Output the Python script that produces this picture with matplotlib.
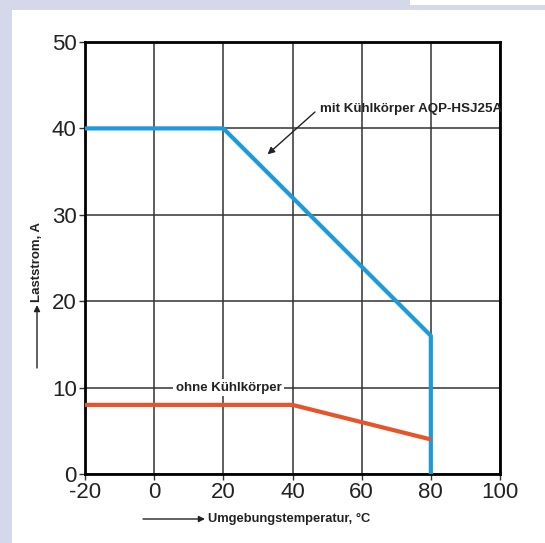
import matplotlib.pyplot as plt
from matplotlib.patches import Rectangle

# Derating-Kurven
temp_mit = [-20, 20, 80, 80]
strom_mit = [40, 40, 16, 0]
temp_ohne = [-20, 40, 80]
strom_ohne = [8, 8, 4]
xticks = [-20, 0, 20, 40, 60, 80, 100]
yticks = [0, 10, 20, 30, 40, 50]

plt.rcParams['font.family'] = ['Liberation Sans', 'DejaVu Sans']
plt.rcParams['axes.unicode_minus'] = False

fig = plt.figure(figsize=(5.45, 5.43), dpi=100)
fig.patch.set_facecolor('#d5d8ea')
# weisses Feld
fig.patches.append(Rectangle((12/545, 0), 1, 1 - 10/543, transform=fig.transFigure,
                             facecolor='white', edgecolor='none', zorder=-5))
fig.patches.append(Rectangle((410/545, 1 - 5/543), 1, 1, transform=fig.transFigure,
                             facecolor='white', edgecolor='none', zorder=-5))

ax = fig.add_axes([85/545, 1 - 474/543, 415/545, 432/543])
ax.set_zorder(2)
ax.set_xlim(-20, 100)
ax.set_ylim(0, 50)
ax.set_xticks(xticks)
ax.set_yticks(yticks)
ax.grid(True, color='#333333', lw=1.1)
ax.tick_params(labelsize=16, length=4, width=1, color='#333333', pad=2,
               labelcolor='#222222')
for s in ax.spines.values():
    s.set_linewidth(2)

ax.plot(temp_mit, strom_mit, color='#1b9bd7', lw=3, solid_capstyle='butt', zorder=3)
ax.plot(temp_ohne, strom_ohne, color='#e8542a', lw=3, solid_capstyle='butt', zorder=3)

ax.text(48, 42.2, 'mit Kühlkörper AQP-HSJ25A', fontsize=9.6, fontweight='bold',
        va='center', ha='left', color='#222222', zorder=4)
ax.annotate('', xy=(32.8, 37.0), xytext=(46.5, 41.9),
            arrowprops=dict(arrowstyle='-|>', color='#222222', lw=1,
                            shrinkA=0, shrinkB=0, mutation_scale=10))
ax.text(21.5, 10, 'ohne Kühlkörper', fontsize=9.5, fontweight='bold', color='#222222',
        ha='center', va='center', zorder=4,
        bbox=dict(facecolor='white', edgecolor='none', pad=2))

# Achsenbeschriftungen mit Pfeilen
fig.text(208/545, 1 - 519/543, 'Umgebungstemperatur, °C', fontsize=9.3,
         fontweight='bold', color='#222222', ha='left', va='center')
fig.text(37/545, 1 - 262/543, 'Laststrom, A', fontsize=9.5, fontweight='bold',
         color='#222222', rotation=90, ha='center', va='center')
ax.annotate('', xy=(205/545, 1 - 519/543), xytext=(143/545, 1 - 519/543),
            xycoords='figure fraction', textcoords='figure fraction',
            arrowprops=dict(arrowstyle='-|>', color='#222222', lw=1,
                            shrinkA=0, shrinkB=0, mutation_scale=9),
            annotation_clip=False)
ax.annotate('', xy=(37/545, 1 - 305/543), xytext=(37/545, 1 - 368/543),
            xycoords='figure fraction', textcoords='figure fraction',
            arrowprops=dict(arrowstyle='-|>', color='#222222', lw=1,
                            shrinkA=0, shrinkB=0, mutation_scale=9),
            annotation_clip=False)

fig.savefig('out.png', dpi=100, facecolor=fig.get_facecolor())
